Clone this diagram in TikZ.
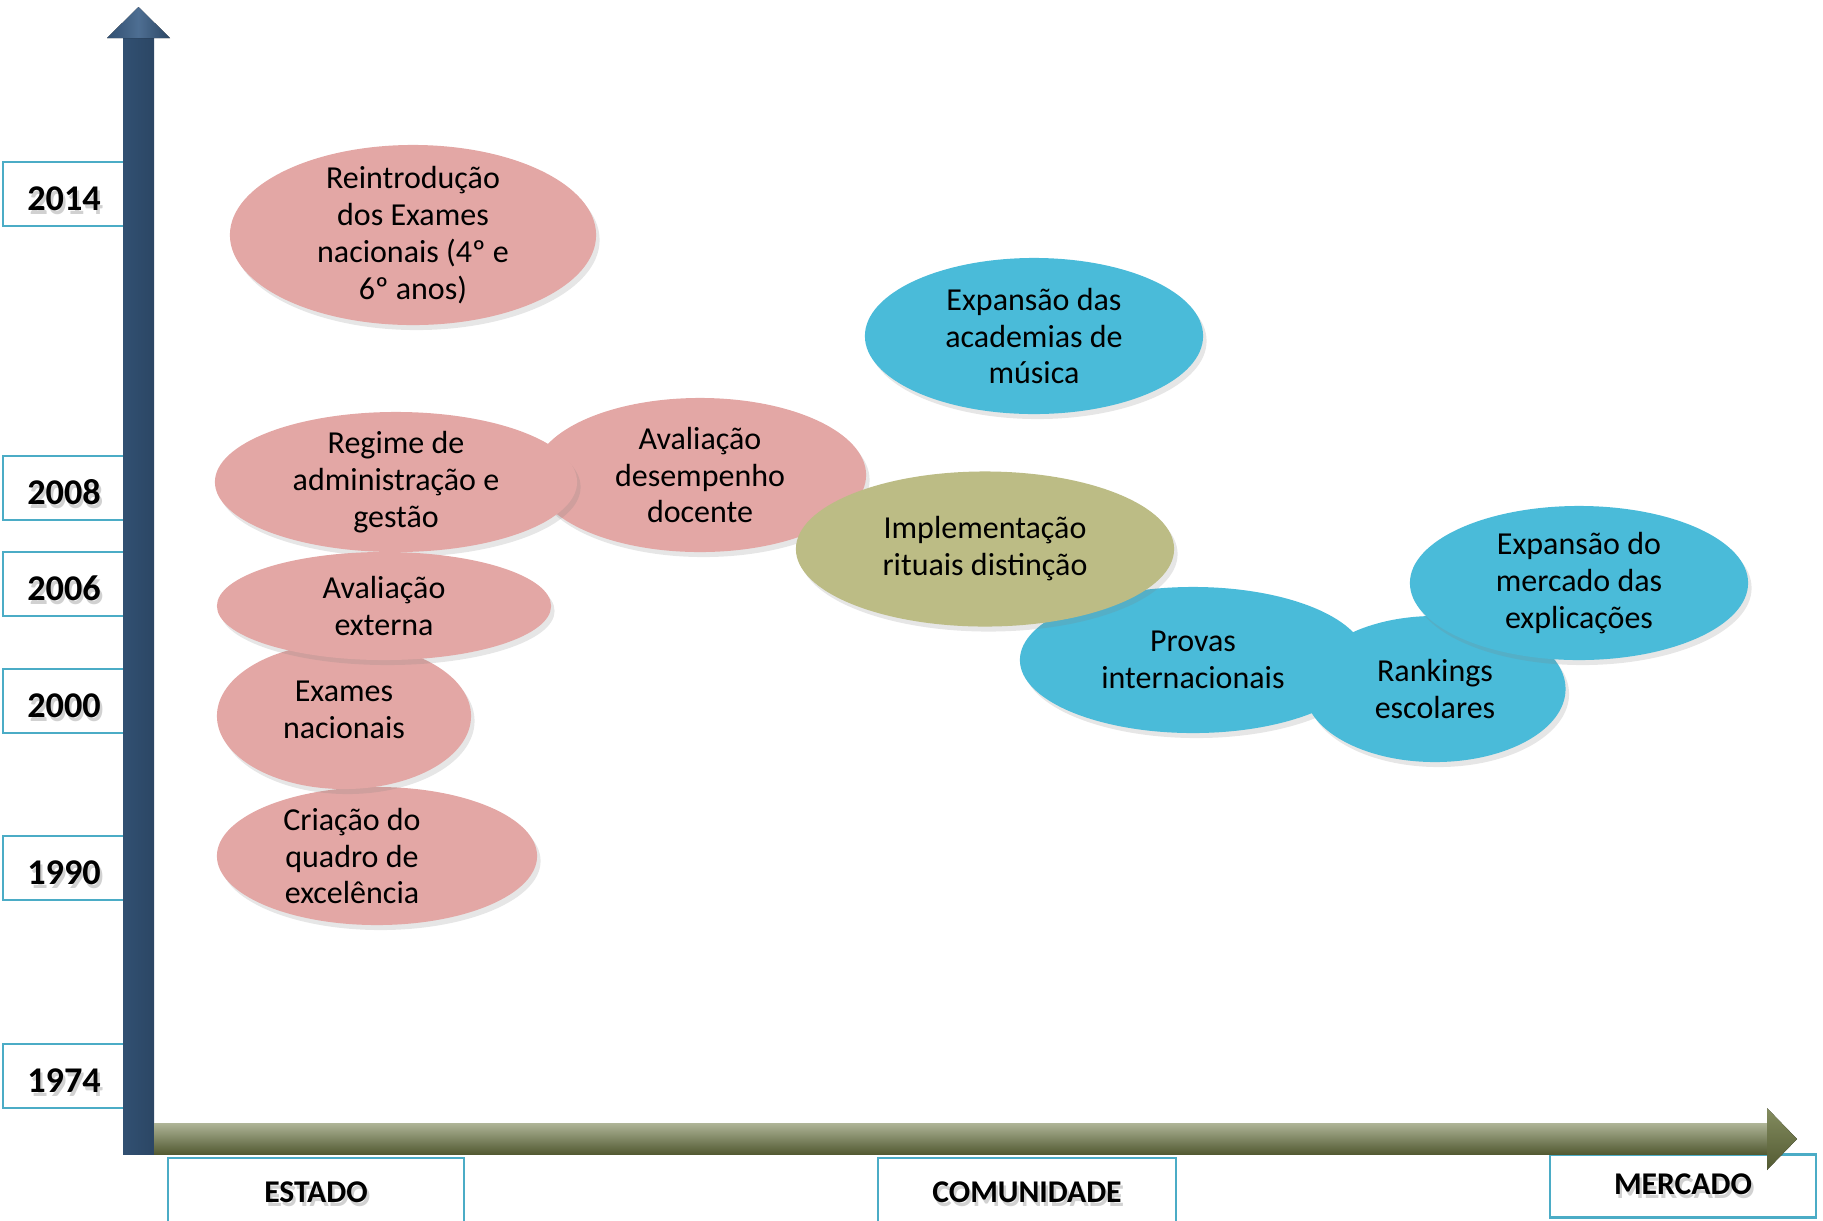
\documentclass[tikz,border=0pt]{standalone}
\usepackage{fontspec}
\setmainfont{Carlito}
\usetikzlibrary{shapes.geometric,shadows}
\definecolor{rosa}{HTML}{E3A7A5}
\definecolor{azul}{HTML}{4ABBD9}
\definecolor{oliva}{HTML}{BCBC85}
\definecolor{caixa}{HTML}{4BACC6}
\definecolor{eixoy}{HTML}{3A5E86}
\definecolor{eixox}{HTML}{6E7843}
\newcommand{\shtext}[1]{\leavevmode\rlap{\kern0.7pt\raisebox{-1pt}{\textcolor{black!18}{#1}}}#1}
\begin{document}
\begin{tikzpicture}[x=0.01cm,y=-0.01cm,
    blob/.style={ellipse, inner sep=0pt, drop shadow={shadow xshift=0.035cm,shadow yshift=-0.05cm,opacity=0.2}},
    blobtext/.style={align=center, inner sep=0pt, font=\fontsize{9.1}{10.5}\selectfont},
    estado/.style={blob, fill=rosa},
    mercado/.style={blob, fill=azul},
    comunidade/.style={blob, fill=oliva},
    ano/.style={draw=caixa, line width=0.6pt, fill=white, minimum width=1.22cm, minimum height=0.64cm, text height=9.4pt, text depth=0pt, font=\fontsize{10.3}{12}\selectfont\bfseries},
    polo/.style={draw=caixa, line width=0.6pt, fill=white, font=\fontsize{9}{11}\selectfont\bfseries}]
  \useasboundingbox (0,0) rectangle (1823,1220);
  % anos
  \node[ano] (a2014) at (64,194) {\shtext{2014}};
  \node[ano] (a2008) at (64,488) {\shtext{2008}};
  \node[ano] (a2006) at (64,584) {\shtext{2006}};
  \node[ano] (a2000) at (64,701) {\shtext{2000}};
  \node[ano] (a1990) at (64,868) {\shtext{1990}};
  \node[ano] (a1974) at (64,1076) {\shtext{1974}};
  % polos
  \node[polo, minimum width=2.95cm, minimum height=0.72cm] (pestado) at (316,1194) {\shtext{ESTADO}};
  \node[polo, minimum width=2.97cm, minimum height=0.72cm] (pcomunidade) at (1027,1194) {\shtext{COMUNIDADE}};
  \node[polo, minimum width=2.66cm, minimum height=0.63cm] (pmercado) at (1683,1186) {\shtext{MERCADO}};
  % eixos
  \fill[left color=eixoy!85!black, middle color=eixoy!95!white, right color=eixoy!75!black] (123,1154) -- (123,38) -- (154,38) -- (154,1154) -- cycle;
  \fill[left color=eixoy!85!black, right color=eixoy!75!black, middle color=eixoy!90!white] (107,38) -- (138.5,7) -- (170,38) -- cycle;
  \fill[top color=eixox!55!white, middle color=eixox, bottom color=eixox!75!black] (154,1123) -- (1767,1123) -- (1767,1154) -- (154,1154) -- cycle;
  \fill[top color=eixox!85!white, bottom color=eixox!75!black] (1767,1108) -- (1797,1139) -- (1767,1170) -- cycle;
  % acontecimentos
  \node[estado, minimum width=3.66cm, minimum height=1.80cm, label={[blobtext]center:Reintrodução\\dos Exames\\nacionais (4º e\\6º anos)}] (reintro) at (413,235) {};
  \node[mercado, minimum width=3.38cm, minimum height=1.56cm, label={[blobtext]center:Expansão das\\academias de\\música}] (academias) at (1034,336) {};
  \node[estado, minimum width=3.32cm, minimum height=1.54cm, label={[blobtext]center:Avaliação\\desempenho\\docente}] (desempenho) at (700,475) {};
  \node[estado, minimum width=3.62cm, minimum height=1.40cm, label={[blobtext]center:Regime de\\administração e\\gestão}] (regime) at (396,482) {};
  \node[mercado, minimum width=3.46cm, minimum height=1.46cm, label={[blobtext]center:Provas\\internacionais}] (provas) at (1193,660) {};
  \node[comunidade, minimum width=3.78cm, minimum height=1.55cm, label={[blobtext]center:Implementação\\rituais distinção}] (rituais) at (985,549) {};
  \node[mercado, minimum width=2.61cm, minimum height=1.46cm, label={[blobtext]center:Rankings\\escolares}] (rankings) at (1435,689) {};
  \node[mercado, minimum width=3.38cm, minimum height=1.54cm, label={[blobtext]center:Expansão do\\mercado das\\explicações}] (explicacoes) at (1579,583) {};
  \node[estado, minimum width=3.20cm, minimum height=1.38cm, label={[blobtext, xshift=-0.25cm]center:Criação do\\quadro de\\excelência}] (criacao) at (377,856) {};
  \node[estado, minimum width=2.54cm, minimum height=1.46cm, label={[blobtext, yshift=0.06cm]center:Exames\\nacionais}] (exames) at (344,716) {};
  \node[estado, minimum width=3.34cm, minimum height=1.08cm, label={[blobtext]center:Avaliação\\externa}] (externa) at (384,606) {};
\end{tikzpicture}
\end{document}
